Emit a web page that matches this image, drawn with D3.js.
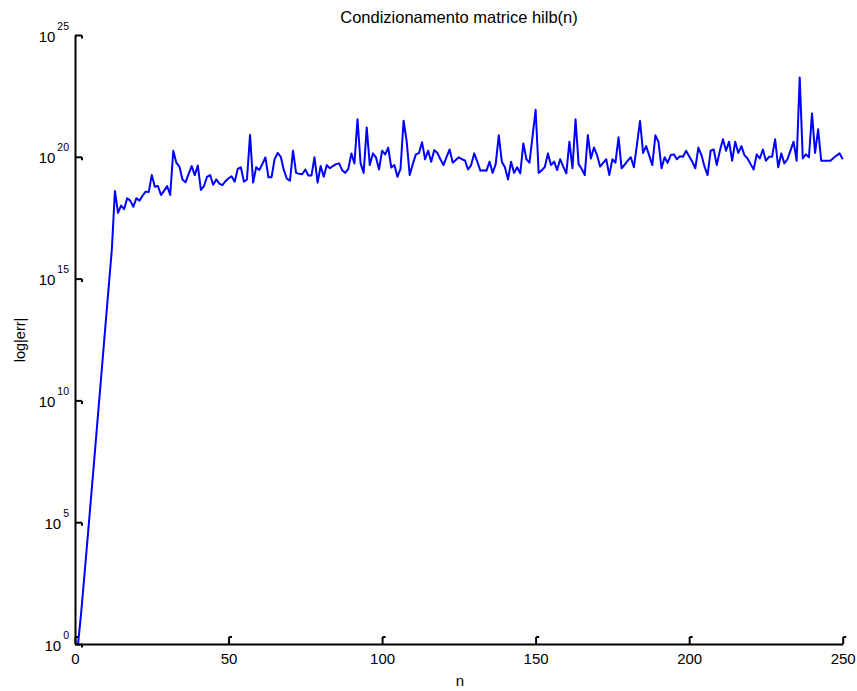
<!DOCTYPE html>
<html>
<head>
<meta charset="utf-8">
<script src="https://cdn.jsdelivr.net/npm/d3@7"></script>
<style>
  body { margin: 0; background: #fff; }
  text { font-family: "Liberation Sans", Arial, sans-serif; fill: #000; }
</style>
</head>
<body>
<svg id="chart" width="857" height="691"></svg>
<script>
// labels
var chartTitle = "Condizionamento matrice hilb(n)";
var xLabel = "n";
var yLabel = "log|err|";
var xTicks = [0, 50, 100, 150, 200, 250];
var yTickExps = [0, 5, 10, 15, 20, 25];

// log10 of cond(hilb(n)), one value per n = 1..250
var log10cond = [
  0, 1.28, 2.72, 4.19, 5.68, 7.17, 8.68, 10.18, 11.69, 13.2,
  14.7, 16.2, 18.6, 17.7, 18.0, 17.85, 18.3, 18.2, 17.95, 18.3,
  18.2, 18.4, 18.57, 18.55, 19.25, 18.77, 18.8, 18.43, 18.6, 18.8,
  18.43, 20.25, 19.76, 19.6, 19.07, 18.95, 19.3, 19.62, 19.25, 19.64,
  18.64, 18.8, 19.18, 19.25, 18.85, 19.07, 18.9, 18.84, 19.0, 19.12,
  19.2, 18.98, 19.5, 19.57, 18.98, 19.07, 20.9, 18.94, 19.57, 19.46,
  19.7, 19.98, 19.16, 19.16, 19.9, 20.16, 20.0, 19.46, 19.1, 19.02,
  20.25, 19.34, 19.3, 19.28, 19.48, 19.23, 19.23, 19.98, 18.94, 19.62,
  19.18, 19.66, 19.53, 19.62, 19.7, 19.73, 19.45, 19.34, 19.5, 20.14,
  19.73, 21.54, 19.73, 19.34, 21.2, 19.66, 20.14, 19.98, 19.48, 20.25,
  20.1, 20.38, 19.56, 19.66, 19.18, 19.5, 21.48, 20.65, 19.25, 19.7,
  20.1, 20.15, 20.6, 19.9, 20.25, 19.8, 20.28, 20.16, 19.9, 19.66,
  20.0, 20.3, 19.76, 19.87, 19.98, 19.9, 19.85, 19.48, 19.66, 20.14,
  19.8, 19.43, 19.45, 19.43, 19.8, 19.34, 19.7, 20.88, 19.8, 19.57,
  19.07, 19.8, 19.34, 19.57, 19.32, 20.55, 19.9, 19.76, 20.84, 21.93,
  19.34, 19.45, 19.58, 20.14, 19.66, 19.8, 19.46, 19.9, 19.6, 19.32,
  20.62, 19.53, 21.54, 19.7, 19.5, 19.25, 20.89, 19.93, 20.38, 20.07,
  19.6, 19.75, 19.9, 19.25, 19.9, 19.76, 20.8, 19.53, 19.68, 19.84,
  19.98, 19.57, 20.5, 21.47, 20.16, 20.44, 20.05, 19.66, 20.88, 20.62,
  19.53, 19.98, 19.76, 20.07, 20.1, 19.9, 20.02, 20.0, 20.25, 20.02,
  19.8, 19.53, 20.38, 20.07, 19.6, 19.25, 20.25, 20.3, 19.66, 20.25,
  20.72, 20.25, 20.62, 19.84, 20.62, 20.16, 20.44, 20.07, 19.93, 19.7,
  19.48, 20.1, 19.93, 20.3, 19.84, 20.0, 20.0, 20.72, 19.57, 20.14,
  19.73, 19.9, 20.25, 20.62, 19.84, 23.26, 19.93, 20.1, 19.98, 21.78,
  20.16, 21.13, 19.84, 19.84, 19.84, 19.84, 19.95, 20.05, 20.14, 19.9
];

var svg = d3.select("#chart"),
    margin = {top: 35, right: 14.3, bottom: 47, left: 75},
    width = +svg.attr("width") - margin.left - margin.right,
    height = +svg.attr("height") - margin.top - margin.bottom;

var data = log10cond.map(function(e, i) { return {n: i + 1, cond: Math.pow(10, e)}; });

var xScale = d3.scaleLinear().domain([0, 250]).range([margin.left, margin.left + width]);
var yScale = d3.scaleLog().domain([1, 1e25]).range([margin.top + height, margin.top]);

// line
var line = d3.line()
    .x(function(d) { return xScale(d.n); })
    .y(function(d) { return yScale(d.cond); });

svg.append("path")
    .datum(data)
    .attr("fill", "none")
    .attr("stroke", "#0000ff")
    .attr("stroke-width", 2)
    .attr("stroke-linejoin", "round")
    .attr("d", line);

// x axis (ticks inward)
var xAxis = d3.axisBottom(xScale)
    .tickValues(xTicks)
    .tickSizeInner(-7)
    .tickSizeOuter(0);

var gx = svg.append("g")
    .attr("transform", "translate(0," + (margin.top + height) + ")")
    .call(xAxis);
gx.select(".domain").attr("stroke", "#000").attr("stroke-width", 2);
gx.selectAll(".tick line").attr("stroke", "#000").attr("stroke-width", 2);
gx.selectAll(".tick").append("path")
    .attr("d", "M0,-7h3")
    .attr("stroke", "#000").attr("stroke-width", 2);
gx.selectAll(".tick text")
    .attr("font-size", 15)
    .attr("font-family", "Liberation Sans, Arial, sans-serif")
    .attr("y", 20)
    .attr("dy", 0);

// y axis (ticks inward, labels as 10^k)
var yAxis = d3.axisLeft(yScale)
    .tickValues(yTickExps.map(function(k) { return Math.pow(10, k); }))
    .tickSizeInner(-7)
    .tickSizeOuter(0)
    .tickFormat("");

var gy = svg.append("g")
    .attr("transform", "translate(" + margin.left + ",0)")
    .call(yAxis);
gy.select(".domain").attr("stroke", "#000").attr("stroke-width", 2);
gy.selectAll(".tick line").attr("stroke", "#000").attr("stroke-width", 2);
gy.selectAll(".tick").append("path")
    .attr("d", "M7,0v3")
    .attr("stroke", "#000").attr("stroke-width", 2);

gy.selectAll(".tick text").each(function(d) {
    var t = d3.select(this)
        .attr("font-size", 15)
        .attr("font-family", "Liberation Sans, Arial, sans-serif")
        .attr("text-anchor", "end")
        .attr("x", -6)
        .attr("y", 6)
        .attr("dy", 0);
    var k = Math.round(Math.log10(d));
    t.text(null);
    t.append("tspan").text("10");
    t.append("tspan").attr("font-size", 10.5).attr("dx", 2).attr("dy", -12).text(k);
});

// labels
svg.append("text")
    .attr("x", 459).attr("y", 23)
    .attr("text-anchor", "middle")
    .attr("font-size", 16.5)
    .text(chartTitle);

svg.append("text")
    .attr("x", 460).attr("y", 686)
    .attr("text-anchor", "middle")
    .attr("font-size", 15)
    .text(xLabel);

svg.append("text")
    .attr("transform", "translate(25,340) rotate(-90)")
    .attr("text-anchor", "middle")
    .attr("font-size", 14.5)
    .text(yLabel);
</script>
</body>
</html>
